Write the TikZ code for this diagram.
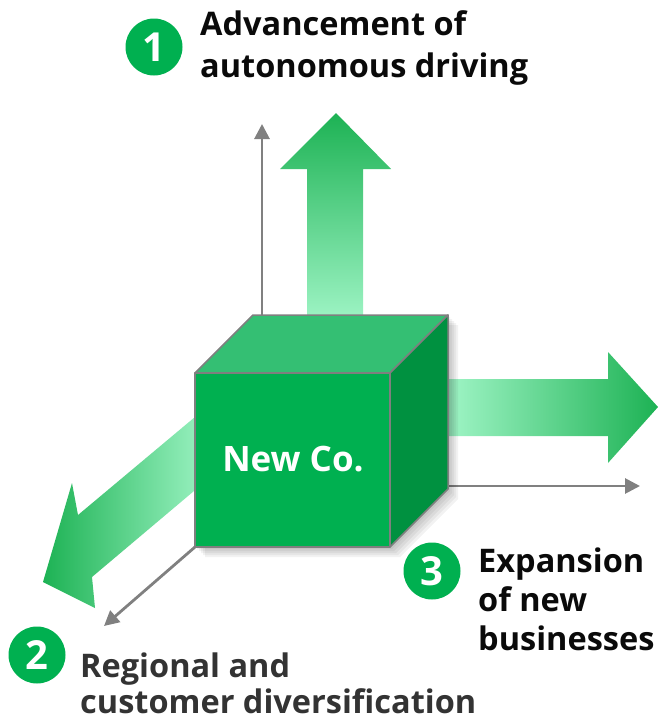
\documentclass[tikz,border=0pt]{standalone}
\usepackage{fontspec}
\setmainfont{Open Sans}
\usetikzlibrary{arrows.meta}
\definecolor{cubefront}{RGB}{0,176,80}
\definecolor{cubetop}{RGB}{52,191,115}
\definecolor{cuberight}{RGB}{0,145,64}
\definecolor{edgegray}{RGB}{127,127,127}
\definecolor{axisgray}{RGB}{128,128,128}
\definecolor{mint}{RGB}{170,250,207}
\definecolor{arrowgreen}{RGB}{29,178,84}
\definecolor{labelgray}{RGB}{51,51,51}
\definecolor{labelblack}{RGB}{10,10,10}
\tikzset{
  lbl/.style={anchor=base west, inner sep=0pt, font=\fontsize{32.5}{38}\selectfont\bfseries},
  numc/.style={circle, fill=cubefront, minimum size=57pt, inner sep=0pt, text=white,
    font=\fontsize{40}{44}\selectfont\bfseries},
  axisline/.style={draw=axisgray, line width=2.8pt, -{Triangle[length=15pt,width=15pt]}},
  face/.style={draw=edgegray, line width=1.5pt, line join=round},
}
\begin{document}
\begin{tikzpicture}[x=1pt,y=-1pt]
\useasboundingbox (0,0) rectangle (658,723);

% axis coordinates
\coordinate (vbase) at (262,315);
\coordinate (vtip) at (262,124);
\coordinate (hbase) at (448,486);
\coordinate (htip) at (640,486);
\coordinate (dbase) at (195,547);
\coordinate (dtip) at (104,626);

% axes
\draw[axisline] (vbase) -- (vtip);
\draw[axisline] (hbase) -- (htip);
\draw[axisline] (dbase) -- (dtip);

% big arrows
\shade[top color=arrowgreen, bottom color=mint]
  (307,340) -- (307,169) -- (280,169) -- (336,113) -- (391,169) -- (363,169) -- (363,340) -- cycle;
\shade[left color=mint, right color=arrowgreen]
  (430,379) -- (608,379) -- (608,352) -- (658,407) -- (608,463) -- (608,436) -- (430,436) -- cycle;
\shade[left color=arrowgreen, right color=mint]
  (226,391) -- (78,515) -- (72,483) -- (43,582) -- (95,608) -- (92,577) -- (226,464) -- cycle;

% cube shadow
\foreach \d in {2,4,6,8,10}{
  \fill[black, opacity=0.05, shift={(\d,\d)}]
    (195,373) -- (253,315) -- (448,315) -- (448,489) -- (390,547) -- (195,547) -- cycle;
}

% cube
\coordinate (fTL) at (195,373);
\coordinate (fTR) at (390,373);
\coordinate (fBR) at (390,547);
\coordinate (fBL) at (195,547);
\coordinate (bTL) at (253,315);
\coordinate (bTR) at (448,315);
\coordinate (bBR) at (448,489);
\path[face, fill=cubetop] (fTL) -- (bTL) -- (bTR) -- (fTR) -- cycle;
\path[face, fill=cuberight] (fTR) -- (bTR) -- (bBR) -- (fBR) -- cycle;
\path[face, fill=cubefront] (fTL) -- (fTR) -- (fBR) -- (fBL) -- cycle;
\node[text=white, font=\fontsize{35}{40}\selectfont\bfseries, inner sep=0pt] (newco) at (293,459) {New Co.};

% number circles
\node[numc] (c1) at (154,47) {1};
\node[numc] (c2) at (37,655) {2};
\node[numc] (c3) at (432,571) {3};

% labels
\node[lbl, text=labelblack] (t1a) at (200,35) {Advancement of};
\node[lbl, text=labelblack] (t1b) at (200,77) {autonomous driving};
\node[lbl, text=labelgray] (t2a) at (80,677) {Regional and};
\node[lbl, text=labelgray] (t2b) at (80,713) {customer diversification};
\node[lbl, text=labelblack] (t3a) at (478,572) {Expansion};
\node[lbl, text=labelblack] (t3b) at (478,611) {of new};
\node[lbl, text=labelblack] (t3c) at (478,650) {businesses};
\end{tikzpicture}
\end{document}
